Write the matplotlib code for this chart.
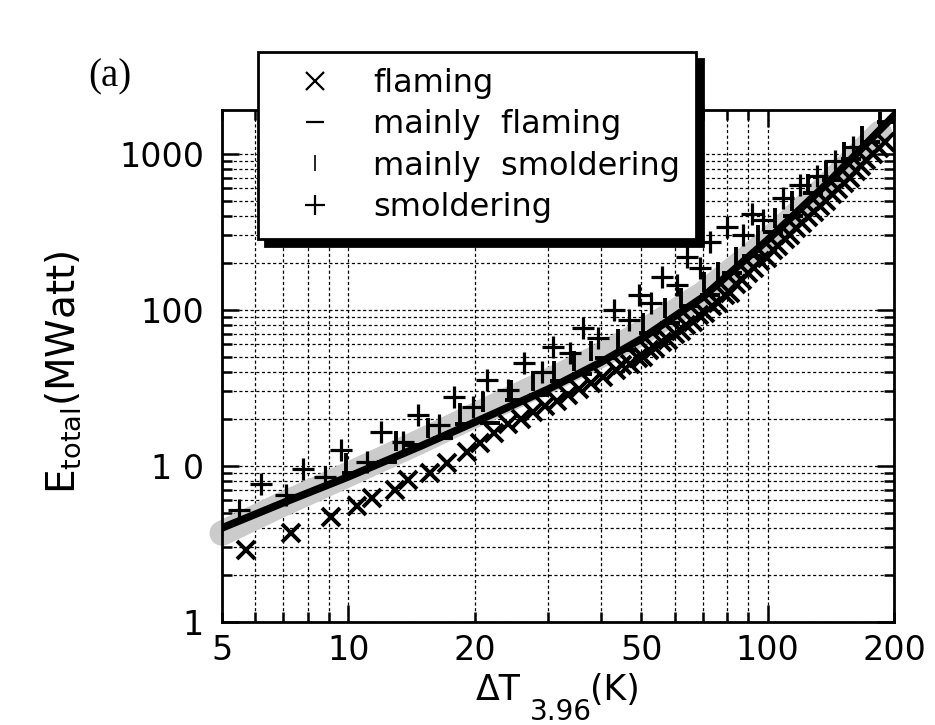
import matplotlib.pyplot as plt
from matplotlib.lines import Line2D
from matplotlib.ticker import FixedLocator, FixedFormatter

# flaming fires (x)
flaming_dt = [5.7, 7.3, 9.1, 10.5, 11.4, 12.9, 13.9, 15.7, 17.2, 19.2, 20.6, 22.2,
              24.0, 25.8, 27.6, 29.5, 31.5, 33.5, 35.5, 38.0, 40.5, 43.5,
              45.0, 47.0, 49.0, 50.5, 52.0, 54.0, 56.0, 58.0, 60.0, 62.0,
              64.0, 66.5, 68.5, 71.0, 73.5, 76.0, 79.0, 81.5, 84.0, 87.0,
              90.0, 93.0, 96.0, 99.5, 103, 106, 110, 113, 117, 121,
              125, 129, 133, 138, 142, 147, 152, 157, 162, 167,
              172, 178, 184, 190]
flaming_e = [2.9, 3.7, 4.7, 5.5, 6.2, 7.0, 8.1, 9.0, 10.5, 12.3, 14.0, 16.3,
             18.5, 20, 22, 24, 26, 28.5, 31, 34, 37, 41,
             44, 45, 49, 50, 55, 57, 62, 64, 70, 73,
             80, 83, 92, 95, 106, 110, 124, 128, 145, 155,
             172, 185, 205, 215, 240, 255, 285, 300, 335, 360,
             395, 420, 460, 500, 550, 590, 650, 700, 770, 830,
             910, 990, 1090, 1180]

# mainly flaming (-)
mflaming_dt = [10.2, 12.4, 14.4, 16.8, 19.0, 21.8, 25.0, 28.5, 32.0, 36.0, 41.0, 46.0,
               52.0, 58.5, 65.0, 73.0, 82.0, 92.0, 103, 115, 128, 142, 158, 175, 192]
mflaming_e = [9.0, 10.6, 13.5, 15.0, 18.6, 18.9, 26.5, 28.5, 35, 38.5, 49, 55,
              71, 82, 106, 125, 172, 220, 315, 400, 555, 680, 920, 1180, 1580]

# mainly smoldering (|)
msmold_dt = [9.9, 13.0, 15.5, 18.5, 21.0, 24.5, 27.5, 31.0, 34.5, 38.0, 44.0, 50.5,
             57.0, 62.0, 70.5, 76.0, 84.0, 95.0, 104, 114, 125, 138, 152, 168, 185]
msmold_e = [10.5, 14.4, 17.5, 21.9, 25.6, 30.6, 35, 40.6, 47, 54, 65, 82,
            102, 119, 151, 175, 219, 300, 388, 500, 638, 775, 1025, 1300, 1600]

# smoldering (+)
smold_dt = [5.5, 6.2, 7.1, 7.8, 8.8, 9.6, 11.1, 12.0, 13.5, 14.7,
            16.5, 17.9, 19.8, 21.4, 24.1, 26.2, 29.0, 30.8, 33.8, 36.3,
            39.5, 42.9, 46.6, 49.3, 52.6, 56.1, 60.9, 64.1, 69.0, 72.8,
            80.0, 87.4, 91.8, 97.6, 109, 119.5, 131, 145, 160]
smold_e = [5.2, 7.6, 6.5, 9.5, 8.5, 12.7, 10.6, 16.5, 14.3, 21.2,
           18.3, 27.4, 23.9, 35.6, 30.7, 45.7, 40, 57.8, 52.8, 76.5,
           66, 100, 86, 124, 111, 163, 144, 216, 186, 272,
           340, 302, 407, 377, 522, 630, 713, 900, 1100]

# fitted curve (black) and broad fit (grey band)
fit_dt = [5, 7, 10, 15, 20, 30, 40, 50, 70, 100, 140, 200]
fit_e = [4.0, 5.8, 8.5, 13.5, 19, 31, 46, 65, 120, 280, 660, 1750]
band_dt = [5, 7, 10, 15, 20, 30, 40, 50, 70, 100, 140, 185]
band_e = [3.7, 5.7, 8.8, 14.5, 21, 35, 51, 71, 126, 275, 640, 1350]

xtick_major = [10, 100]
xtick_major_labels = ['10', '100']
xtick_minor = [5, 6, 7, 8, 9, 20, 30, 40, 50, 60, 70, 80, 90, 200]
xtick_minor_labels = ['5', '', '', '', '', '20', '', '', '50', '', '', '', '', '200']
ytick_major = [1, 10, 100, 1000]
ytick_major_labels = ['1', '1 0', '100', '1000']
ytick_minor = [2, 3, 4, 5, 6, 7, 8, 9,
               20, 30, 40, 50, 60, 70, 80, 90,
               200, 300, 400, 500, 600, 700, 800, 900]

legend_labels = ['flaming', 'mainly  flaming', 'mainly  smoldering', 'smoldering']

plt.rcParams['font.family'] = 'DejaVu Sans'

fig = plt.figure(figsize=(9.35, 7.25), dpi=100)
ax = fig.add_axes([0.2374, 0.1421, 0.7187, 0.7062])
ax.set_xscale('log')
ax.set_yscale('log')
ax.set_xlim(5, 200)
ax.set_ylim(1, 1900)

ax.plot(band_dt, band_e, color='#cbcbcb', lw=18, solid_capstyle='round',
        zorder=2, clip_on=False)
ax.plot(fit_dt, fit_e, color='k', lw=5.5, zorder=3)

ax.plot(flaming_dt, flaming_e, 'x', color='k', ms=13, mew=2.8, zorder=4)
ax.plot(mflaming_dt, mflaming_e, '_', color='k', ms=14, mew=2.8, zorder=4)
ax.plot(msmold_dt, msmold_e, '|', color='k', ms=14, mew=2.8, zorder=4)
ax.plot(smold_dt, smold_e, '+', color='k', ms=16, mew=2.3, zorder=4)

ax.xaxis.set_major_locator(FixedLocator(xtick_major))
ax.xaxis.set_major_formatter(FixedFormatter(xtick_major_labels))
ax.xaxis.set_minor_locator(FixedLocator(xtick_minor))
ax.xaxis.set_minor_formatter(FixedFormatter(xtick_minor_labels))
ax.yaxis.set_major_locator(FixedLocator(ytick_major))
ax.yaxis.set_major_formatter(FixedFormatter(ytick_major_labels))
ax.yaxis.set_minor_locator(FixedLocator(ytick_minor))
ax.yaxis.set_minor_formatter(FixedFormatter([''] * len(ytick_minor)))

ax.tick_params(which='both', direction='in', top=True, right=True,
               width=1.8, labelsize=24)
ax.tick_params(which='major', length=12)
ax.tick_params(which='minor', length=7)
ax.tick_params(axis='x', which='both', pad=9)
ax.tick_params(axis='y', which='both', pad=13)

ax.set_axisbelow(True)
ax.grid(which='both', color='k', linestyle=(0, (2.5, 2)), linewidth=0.9)
for sp in ax.spines.values():
    sp.set_linewidth(2)

# legend with hard black drop shadow
handles = [
    Line2D([], [], ls='', marker='x', color='k', ms=13, mew=1.6),
    Line2D([], [], ls='', marker='_', color='k', ms=13, mew=1.6),
    Line2D([], [], ls='', marker='|', color='k', ms=12, mew=1.2),
    Line2D([], [], ls='', marker='+', color='k', ms=15, mew=1.6),
]
leg = ax.legend(handles, legend_labels, loc='upper left',
                bbox_to_anchor=(0.0536, 1.113), borderaxespad=0,
                fontsize=23, frameon=True, fancybox=False,
                handlelength=2.6, handletextpad=0.5, borderpad=0.5,
                labelspacing=0.32,
                shadow={'ox': 5, 'oy': -5, 'facecolor': 'k',
                        'edgecolor': 'k', 'alpha': 1})
leg.get_frame().set_edgecolor('k')
leg.get_frame().set_linewidth(2)
leg.set_zorder(6)

# axis titles
fig.text(0.068, 0.487, r'E$_{\rm total}$(MWatt)', rotation=90,
         fontsize=28, ha='center', va='center')
fig.text(476 / 935, 1 - 700 / 725, '\u0394T', fontsize=25,
         ha='left', va='baseline')
fig.text(530 / 935, 1 - 720 / 725, '3.96', fontsize=20,
         ha='left', va='baseline')
fig.text(590 / 935, 1 - 700 / 725, '(K)', fontsize=25,
         ha='left', va='baseline')

fig.text(0.118, 0.894, '(a)', family='Liberation Serif', fontsize=28,
         ha='center', va='center')

fig.savefig('out.png', dpi=100)
